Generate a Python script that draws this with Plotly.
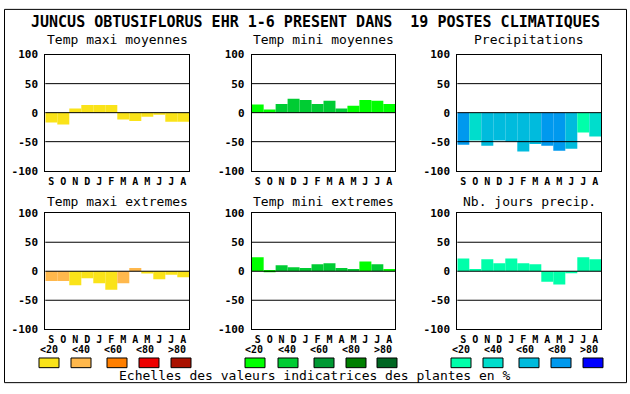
import plotly.graph_objects as go

# ---------------- data ----------------
months = ["S", "O", "N", "D", "J", "F", "M", "A", "M", "J", "J", "A"]

panel_titles = ["Temp maxi moyennes", "Temp mini moyennes", "Precipitations",
                "Temp maxi extremes", "Temp mini extremes", "Nb. jours precip."]

tmax_moy = [-17, -20.5, 7, 13, 13, 13, -12, -14.5, -7, -2, -15.5, -15.5]
tmax_moy_cls = [0, 0, 0, 0, 0, 0, 0, 0, 0, 0, 0, 0]

tmin_moy = [14, 5.5, 15, 24, 22, 15, 20.5, 7, 12, 22, 20.5, 15]
tmin_moy_cls = [0, 0, 1, 1, 1, 1, 1, 1, 0, 0, 0, 0]

precip = [-55.5, -48, -57, -48, -49.5, -67, -54, -57, -65.5, -62, -34, -41]
precip_cls = [3, 1, 2, 2, 2, 2, 2, 3, 3, 2, 0, 1]

tmax_ext = [-17, -17, -24, -12, -20.5, -32, -20.5, 5.5, -4, -14, -6, -10.5]
tmax_ext_cls = [1, 1, 0, 0, 0, 0, 1, 1, 0, 0, 0, 0]

tmin_ext = [24, 2, 10.5, 7, 5.5, 12, 14, 5.5, 4, 17, 12, 4]
tmin_ext_cls = [0, 0, 1, 1, 1, 1, 1, 1, 1, 0, 1, 0]

nb_jours = [22, 4, 20.5, 14, 22, 14, 12, -18, -23, -3, 24, 20.5]
nb_jours_cls = [0, 0, 0, 0, 0, 0, 0, 0, 0, 0, 0, 0]

y_tickvals = [-100, -50, 0, 50, 100]
y_ticktext = ["-100", "-50", "0", "50", "100"]
ref_lines = [-50, 0, 50]

scale_labels = ["&lt;20", "&lt;40", "&lt;60", "&lt;80", "&gt;80"]

title_text = "JUNCUS OBTUSIFLORUS EHR 1-6 PRESENT DANS\u00a0 19 POSTES CLIMATIQUES"
footer_text = "Echelles des valeurs indicatrices des plantes en %"

# ---------------- styles ----------------
pal_temp_max = ["#FAE319", "#FFB84C", "#FF7F00", "#EE0000", "#AA1100"]
pal_temp_min = ["#00FF00", "#00CC33", "#009933", "#007F00", "#006622"]
pal_water = ["#00FFAA", "#00DDCC", "#00BBDD", "#0099EE", "#0000FF"]
palettes = [pal_temp_max, pal_temp_min, pal_water]

W, H = 630, 394
MONO = "DejaVu Sans Mono"

panels = [
    (tmax_moy, tmax_moy_cls, 0),
    (tmin_moy, tmin_moy_cls, 1),
    (precip, precip_cls, 2),
    (tmax_ext, tmax_ext_cls, 0),
    (tmin_ext, tmin_ext_cls, 1),
    (nb_jours, nb_jours_cls, 2),
]

x_dom_px = [(45.3, 189.3), (251.7, 395.3), (457.3, 601.3)]
y_dom_px = [(50.3, 170.3), (214.3, 334.3)]
subtitle_y_px = [34.5, 202]

fig = go.Figure()
shapes = []
annotations = []
layout = {}

for i, (vals, cls, pal) in enumerate(panels):
    r, c = divmod(i, 3)
    n = i + 1
    xn = "x" if n == 1 else f"x{n}"
    yn = "y" if n == 1 else f"y{n}"
    x0, x1 = x_dom_px[c]
    y0, y1 = y_dom_px[r]
    fig.add_trace(go.Bar(
        x=list(range(len(months))), y=vals, width=1,
        marker=dict(color=[palettes[pal][k] for k in cls], line=dict(width=0)),
        xaxis=xn, yaxis=yn, showlegend=False, hoverinfo="skip"))
    layout["xaxis" if n == 1 else f"xaxis{n}"] = dict(
        domain=[x0 / W, x1 / W], range=[-0.5, 11.5], anchor=yn,
        tickvals=list(range(len(months))), ticktext=months,
        showline=True, mirror=True, linecolor="black", linewidth=1,
        showgrid=False, zeroline=False, ticks="", fixedrange=True,
        ticklabelstandoff=1,
        tickfont=dict(family=MONO, size=10, color="black", weight="bold"))
    layout["yaxis" if n == 1 else f"yaxis{n}"] = dict(
        domain=[1 - y1 / H, 1 - y0 / H], range=[-100, 100], anchor=xn,
        tickvals=y_tickvals, ticktext=y_ticktext,
        showline=True, mirror=True, linecolor="black", linewidth=1,
        showgrid=False, zeroline=False, ticks="", ticklabelstandoff=4,
        tickfont=dict(family=MONO, size=11, color="black", weight="bold"))
    for v in ref_lines:
        shapes.append(dict(type="line", xref=f"{xn} domain", yref=yn,
                           x0=0, x1=1, y0=v, y1=v, layer="above",
                           line=dict(color="black", width=1)))
    annotations.append(dict(text=panel_titles[i], xref="paper", yref="paper",
                            x=(x0 + x1) / 2 / W, y=1 - subtitle_y_px[r] / H,
                            xanchor="center", yanchor="middle", showarrow=False,
                            font=dict(family=MONO, size=13, color="black")))

# main title
annotations.append(dict(text=title_text, xref="paper", yref="paper",
                        x=315 / W, y=1 - 17 / H, xanchor="center", yanchor="middle",
                        showarrow=False,
                        font=dict(family=MONO, size=15, color="black", weight="bold")))
# footer
annotations.append(dict(text=footer_text, xref="paper", yref="paper",
                        x=315 / W, y=1 - 382 / H, xanchor="center", yanchor="middle",
                        showarrow=False, font=dict(family=MONO, size=13, color="black")))

# scale legend
label_x_px = [[49, 81, 113, 145, 177], [254, 287, 319, 351, 383], [461, 493, 525, 557, 589]]
box_x_px = [[39, 71, 107, 139, 171], [245, 278, 314, 346, 377], [451, 483, 519, 551, 583]]
BOX_W, BOX_Y0, BOX_Y1, LABEL_Y = 20, 364, 374, 355
for g in range(3):
    for k in range(5):
        annotations.append(dict(text=scale_labels[k], xref="paper", yref="paper",
                                x=label_x_px[g][k] / W, y=1 - LABEL_Y / H,
                                xanchor="center", yanchor="middle", showarrow=False,
                                font=dict(family=MONO, size=10, color="black", weight="bold")))
        bx = box_x_px[g][k]
        shapes.append(dict(type="rect", xref="paper", yref="paper",
                           x0=bx / W, x1=(bx + BOX_W) / W,
                           y0=1 - BOX_Y1 / H, y1=1 - BOX_Y0 / H,
                           fillcolor=palettes[g][k], line=dict(color="black", width=1)))

# outer frame
shapes.append(dict(type="rect", xref="paper", yref="paper",
                   x0=4.5 / W, x1=626.5 / W, y0=1 - 389.5 / H, y1=1 - 3.5 / H,
                   line=dict(color="black", width=1), fillcolor="rgba(0,0,0,0)"))

fig.update_layout(width=W, height=H, margin=dict(l=0, r=0, t=0, b=0),
                  paper_bgcolor="white", plot_bgcolor="white",
                  shapes=shapes, annotations=annotations, **layout)

fig.write_html("out.html", config={"displayModeBar": False},
               post_script="document.body.style.margin='0';document.body.style.overflow='hidden';")
